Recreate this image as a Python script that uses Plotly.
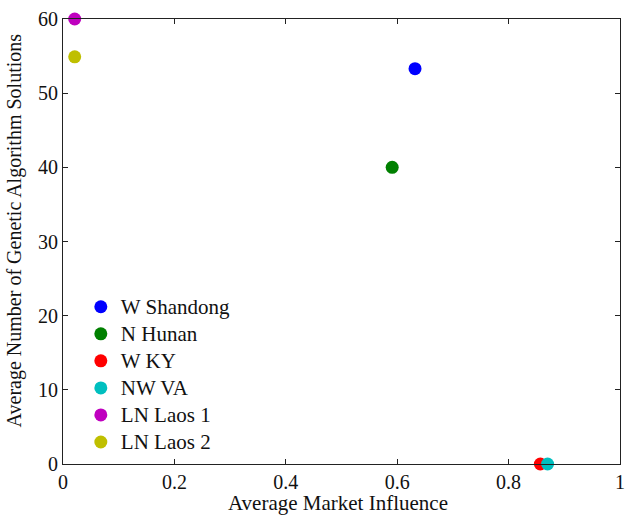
import plotly.graph_objects as go

regions = ["W Shandong", "N Hunan", "W KY", "NW VA", "LN Laos 1", "LN Laos 2"]
market_influence = [0.632, 0.591, 0.857, 0.870, 0.021, 0.021]
ga_solutions = [53.3, 40.0, 0.0, 0.0, 60.0, 54.9]
colors = ["#0000ff", "#008000", "#ff0000", "#00bfbf", "#bf00bf", "#bfbf00"]

x_ticks = [0, 0.2, 0.4, 0.6, 0.8, 1]
x_tick_labels = ["0", "0.2", "0.4", "0.6", "0.8", "1"]
y_ticks = [0, 10, 20, 30, 40, 50, 60]

FONT = "Liberation Serif, Times New Roman, serif"

fig = go.Figure()
for i, name in enumerate(regions):
    fig.add_trace(go.Scatter(
        x=[market_influence[i]], y=[ga_solutions[i]], mode="markers",
        name='<span style="font-size:21px">' + name + "</span>",
        legendgroup=name,
        marker=dict(color=colors[i], size=13, line=dict(width=0)),
        cliponaxis=False,
    ))

axis_common = dict(
    showline=True, linecolor="#222", linewidth=1.2, mirror="ticks",
    ticks="inside", ticklen=5, tickcolor="#222", tickwidth=1,
    showgrid=False, zeroline=False, automargin=False,
    tickfont=dict(family=FONT, size=20, color="#111"),
)

fig.update_layout(
    width=629, height=516,
    margin=dict(l=63, r=9, t=19, b=52),
    paper_bgcolor="white", plot_bgcolor="white",
    font=dict(family=FONT, color="#111"),
    xaxis=dict(range=[0, 1], tickvals=x_ticks, ticktext=x_tick_labels, **axis_common),
    yaxis=dict(range=[0, 60], tickvals=y_ticks, **axis_common),
    legend=dict(x=0.032, y=0.395, xanchor="left", yanchor="top",
                bgcolor="rgba(0,0,0,0)", font=dict(family=FONT, size=18.5),
                tracegroupgap=0, itemwidth=30),
    showlegend=True,
    annotations=[
        dict(text="Average Market Influence", xref="paper", yref="paper",
             x=0.494, y=0, yshift=-39, xanchor="center", yanchor="middle",
             showarrow=False, font=dict(family=FONT, size=21, color="#111")),
        dict(text="Average Number of Genetic Algorithm Solutions", xref="paper", yref="paper",
             x=0, xshift=-49, y=0.525, xanchor="center", yanchor="middle", textangle=-90,
             showarrow=False, font=dict(family=FONT, size=20, color="#111")),
    ],
)

fig.write_html(
    "out.html",
    config={"displayModeBar": False},
    post_script="document.body.style.margin='0px';document.body.style.overflow='hidden';",
)
